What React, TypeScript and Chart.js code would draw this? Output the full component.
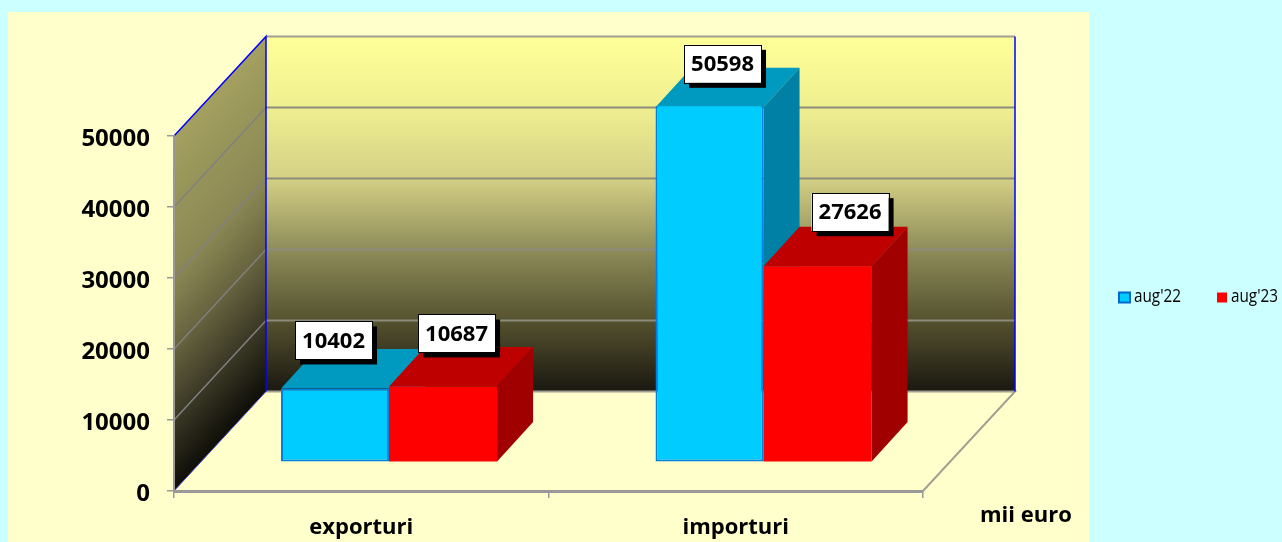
import React, { useEffect, useRef } from "react";
import { Chart, registerables } from "chart.js";

Chart.register(...registerables);

const categories = ["exporturi", "importuri"];
const seriesNames = ["aug'22", "aug'23"];
const aug22 = [10402, 50598];
const aug23 = [10687, 27626];
const yTicks = [0, 10000, 20000, 30000, 40000, 50000];

const FONT = '"Open Sans", sans-serif';
const WALL = { dx: 92, dy: -99.5 };
const BAR_SHIFT = { dx: 27.8, dy: -28.7 };
const BAR_DEPTH = { dx: 36, dy: -39.5 };
const LABEL_OFFSETS = [
  [[-1.5, -48], [13.5, -53]],
  [[13, -43.5], [32.5, -54]],
];

const threeD: any = {
  id: "threeD",
  beforeDraw(chart: any) {
    const { ctx, chartArea: a, scales } = chart;
    const y = scales.y;
    const { dx, dy } = WALL;
    ctx.save();
    ctx.fillStyle = "#ccffff";
    ctx.fillRect(0, 0, chart.width, chart.height);
    ctx.fillStyle = "#ffffcc";
    ctx.fillRect(8, 12, 1081, 530);

    const backGrad = ctx.createLinearGradient(0, a.top + dy, 0, a.bottom + dy);
    backGrad.addColorStop(0, "#ffff99");
    backGrad.addColorStop(0.2, "#efef90");
    backGrad.addColorStop(0.4, "#d4d085");
    backGrad.addColorStop(0.6, "#8e8c5a");
    backGrad.addColorStop(0.8, "#55522f");
    backGrad.addColorStop(1, "#1a1810");
    ctx.fillStyle = backGrad;
    ctx.fillRect(a.left + dx, a.top + dy, a.right - a.left, a.bottom - a.top);

    ctx.save();
    ctx.beginPath();
    ctx.moveTo(a.left, a.top);
    ctx.lineTo(a.left + dx, a.top + dy);
    ctx.lineTo(a.left + dx, a.bottom + dy);
    ctx.lineTo(a.left, a.bottom);
    ctx.closePath();
    ctx.clip();
    const k = dy / dx;
    ctx.transform(1, k, 0, 1, 0, -a.left * k);
    const sideGrad = ctx.createLinearGradient(0, a.top, 0, a.bottom);
    sideGrad.addColorStop(0, "#a3a060");
    sideGrad.addColorStop(0.4, "#8a8754");
    sideGrad.addColorStop(0.6, "#66633f");
    sideGrad.addColorStop(0.8, "#3a3825");
    sideGrad.addColorStop(1, "#0f0e08");
    ctx.fillStyle = sideGrad;
    ctx.fillRect(a.left - 10, a.top - 10, dx + 20, a.bottom - a.top + 20);
    ctx.restore();

    for (const v of yTicks) {
      const py = y.getPixelForValue(v);
      if (v !== 0 && v !== 50000) {
        ctx.lineWidth = 1.5;
        ctx.strokeStyle = "#808080";
        ctx.beginPath();
        ctx.moveTo(a.left, py);
        ctx.lineTo(a.left + dx, py + dy);
        ctx.stroke();
        ctx.lineWidth = 2;
        ctx.strokeStyle = "#8c8c7c";
        ctx.beginPath();
        ctx.moveTo(a.left + dx, py + dy);
        ctx.lineTo(a.right + dx, py + dy);
        ctx.stroke();
      }
    }
    ctx.strokeStyle = "#a0a090";
    ctx.lineWidth = 2;
    ctx.beginPath();
    ctx.moveTo(a.left + dx, a.top + dy);
    ctx.lineTo(a.right + dx, a.top + dy);
    ctx.stroke();
    ctx.beginPath();
    ctx.moveTo(a.left + dx, a.bottom + dy);
    ctx.lineTo(a.right + dx, a.bottom + dy);
    ctx.lineTo(a.right, a.bottom);
    ctx.lineTo(a.left, a.bottom);
    ctx.stroke();

    ctx.strokeStyle = "#0000ff";
    ctx.lineWidth = 1.5;
    ctx.beginPath();
    ctx.moveTo(a.left, a.top);
    ctx.lineTo(a.left + dx, a.top + dy);
    ctx.lineTo(a.left + dx, a.bottom + dy);
    ctx.moveTo(a.right + dx, a.top + dy);
    ctx.lineTo(a.right + dx, a.bottom + dy);
    ctx.stroke();
    ctx.lineWidth = 1;
    ctx.strokeStyle = "#5050d0";
    ctx.beginPath();
    ctx.moveTo(a.left, a.bottom);
    ctx.lineTo(a.left + dx, a.bottom + dy);
    ctx.stroke();
    ctx.restore();
  },
  beforeDatasetsDraw(chart: any) {
    const { ctx, chartArea: a } = chart;
    const faces = [
      { top: "#0099bf", side: "#0080a4" },
      { top: "#bf0000", side: "#a00000" },
    ];
    const n = chart.data.labels.length;
    for (let i = 0; i < n; i++) {
      chart.data.datasets.forEach((_: any, d: number) => {
        const el = chart.getDatasetMeta(d).data[i];
        const half = el.width / 2;
        const l = el.x - half + BAR_SHIFT.dx;
        const r = el.x + half + BAR_SHIFT.dx;
        const t = Math.max(el.y, a.top) + BAR_SHIFT.dy;
        const b = el.base + BAR_SHIFT.dy;
        ctx.fillStyle = faces[d].top;
        ctx.beginPath();
        ctx.moveTo(l, t);
        ctx.lineTo(l + BAR_DEPTH.dx, t + BAR_DEPTH.dy);
        ctx.lineTo(r + BAR_DEPTH.dx, t + BAR_DEPTH.dy);
        ctx.lineTo(r, t);
        ctx.closePath();
        ctx.fill();
        ctx.fillStyle = faces[d].side;
        ctx.beginPath();
        ctx.moveTo(r, t);
        ctx.lineTo(r + BAR_DEPTH.dx, t + BAR_DEPTH.dy);
        ctx.lineTo(r + BAR_DEPTH.dx, b + BAR_DEPTH.dy);
        ctx.lineTo(r, b);
        ctx.closePath();
        ctx.fill();
      });
    }
    ctx.save();
    ctx.translate(BAR_SHIFT.dx, BAR_SHIFT.dy);
  },
  afterDatasetsDraw(chart: any) {
    const { ctx, chartArea: a } = chart;
    ctx.restore();
    ctx.save();
    ctx.textAlign = "center";
    ctx.textBaseline = "middle";
    ctx.font = `bold 22px ${FONT}`;
    chart.data.datasets.forEach((ds: any, d: number) => {
      chart.getDatasetMeta(d).data.forEach((el: any, i: number) => {
        const [ox, oy] = LABEL_OFFSETS[i][d];
        const cx = el.x + BAR_SHIFT.dx + ox;
        const cy = Math.max(el.y, a.top) + BAR_SHIFT.dy + oy;
        const w = 77;
        const h = 38;
        ctx.fillStyle = "#000000";
        ctx.fillRect(cx - w / 2 + 5, cy - h / 2 + 5, w, h);
        ctx.fillStyle = "#ffffff";
        ctx.fillRect(cx - w / 2, cy - h / 2, w, h);
        ctx.strokeStyle = "#000000";
        ctx.lineWidth = 1;
        ctx.strokeRect(Math.round(cx - w / 2) + 0.5, Math.round(cy - h / 2) + 0.5, w, h);
        ctx.fillStyle = "#000000";
        ctx.fillText(String(ds.data[i]), cx, cy + 1, 66);
      });
    });

    ctx.font = `bold 22px ${FONT}`;
    ctx.textAlign = "left";
    ctx.fillText("mii euro", 980, 516);

    const legendX = [1119, 1217];
    ctx.font = `18px ${FONT}`;
    chart.data.datasets.forEach((ds: any, d: number) => {
      const x = legendX[d];
      ctx.fillStyle = ds.backgroundColor;
      if (d === 0) {
        ctx.fillRect(x, 292.5, 11, 10);
        ctx.strokeStyle = "#0066cc";
        ctx.lineWidth = 2;
        ctx.strokeRect(x, 292.5, 11, 10);
      } else {
        ctx.fillRect(x, 292.5, 10, 10);
      }
      ctx.fillStyle = "#000000";
      ctx.fillText(ds.label, d === 0 ? 1134 : 1231, 297, 47);
    });
    ctx.restore();
  },
};

export default function App() {
  const ref = useRef<HTMLCanvasElement>(null);
  useEffect(() => {
    const barClip = { left: 2, right: 2, top: 1, bottom: 3 };
    const chart = new Chart(ref.current as HTMLCanvasElement, {
      type: "bar",
      data: {
        labels: categories,
        datasets: [
          {
            label: seriesNames[0],
            data: aug22,
            backgroundColor: "#00ccff",
            borderColor: "#0080e0",
            borderWidth: 2,
            borderSkipped: false,
            clip: barClip,
          },
          {
            label: seriesNames[1],
            data: aug23,
            backgroundColor: "#ff0000",
            borderColor: "#ff0000",
            borderWidth: 0,
            clip: barClip,
          },
        ],
      },
      options: {
        animation: false,
        responsive: false,
        layout: { padding: { top: 136, right: 359, left: 0, bottom: 0 } },
        plugins: { legend: { display: false }, tooltip: { enabled: false } },
        datasets: { bar: { categoryPercentage: 0.577, barPercentage: 1 } },
        scales: {
          x: {
            grid: { offset: true, drawOnChartArea: false, tickLength: 7, color: "#999999", lineWidth: 1.5 },
            border: { color: "#999999", width: 3 },
            ticks: { color: "#000000", font: { family: FONT, size: 22, weight: "bold" }, padding: 17 },
            afterFit: (s: any) => { s.height = 51; },
          },
          y: {
            min: 0,
            max: 50000,
            afterBuildTicks: (s: any) => { s.ticks = yTicks.map((value) => ({ value })); },
            grid: { drawOnChartArea: false, tickLength: 7, color: "#999999", lineWidth: 1.5 },
            border: { color: "#999999", width: 2 },
            ticks: {
              color: "#000000",
              font: { family: FONT, size: 24, weight: "bold" },
              padding: 17,
              labelOffset: 3,
              callback: (v: any) => String(v),
            },
            afterFit: (s: any) => { s.width = 174; },
          },
        },
      } as any,
      plugins: [threeD],
    });
    return () => chart.destroy();
  }, []);
  return (
    <div style={{ position: "fixed", left: 0, top: 0, width: 1282, height: 542 }}>
      <canvas ref={ref} width={1282} height={542} style={{ display: "block" }} />
    </div>
  );
}
